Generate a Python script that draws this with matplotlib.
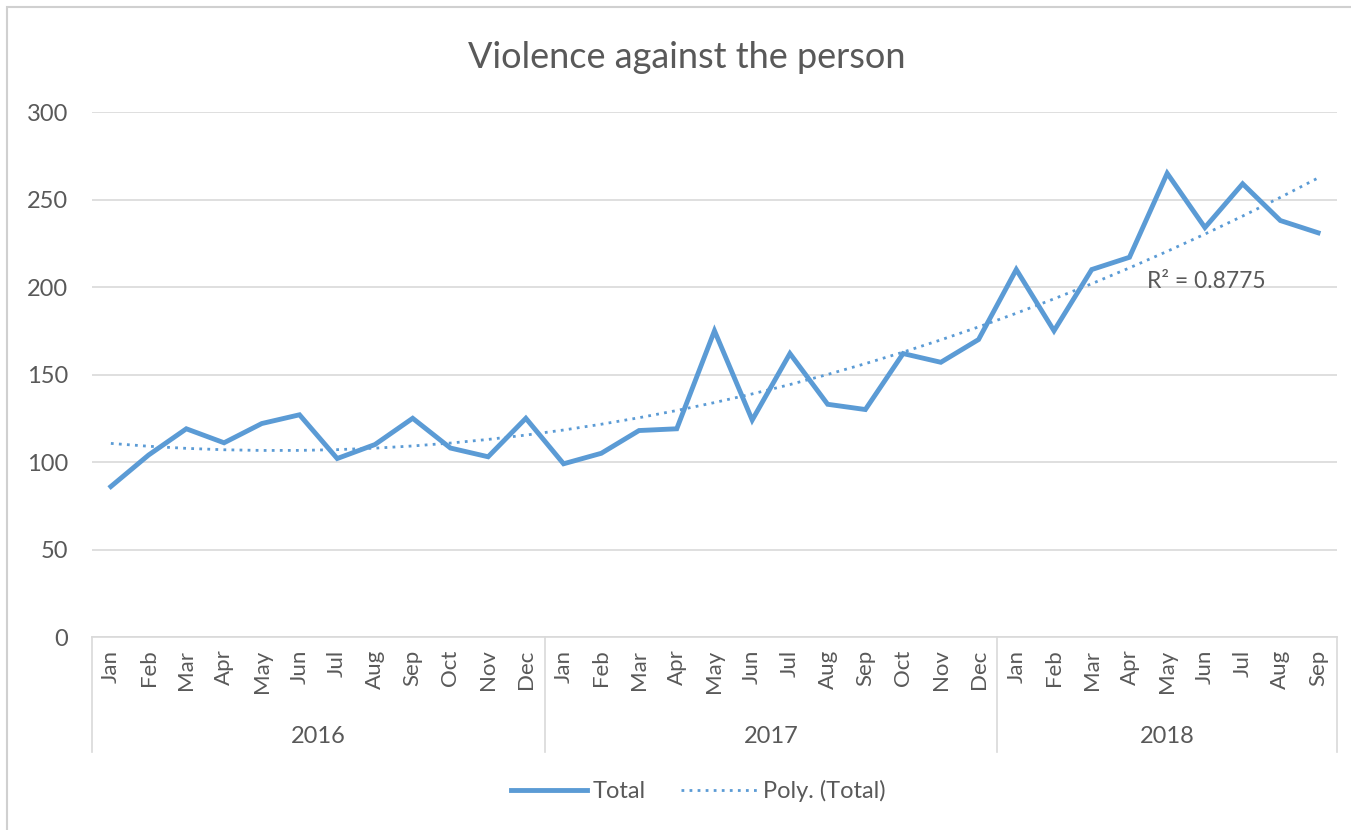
import numpy as np
import matplotlib.pyplot as plt
from matplotlib.patches import Rectangle

# -----------------------------
# Data
# -----------------------------
months = ["Jan", "Feb", "Mar", "Apr", "May", "Jun",
          "Jul", "Aug", "Sep", "Oct", "Nov", "Dec"]
years = ["2016", "2017", "2018"]
months_per_year = [12, 12, 9]

total = [86, 104, 119, 111, 122, 127, 102, 110, 125, 108, 103, 125,
         99, 105, 118, 119, 175, 124, 162, 133, 130, 162, 157, 170,
         210, 175, 210, 217, 265, 234, 259, 238, 231]

r2_label = "R² = 0.8775"

# -----------------------------
# Style
# -----------------------------
plt.rcParams['font.family'] = ['Lato', 'DejaVu Sans']
blue = "#5B9BD5"
grey_text = "#595959"
grid_col = "#D9D9D9"

fig = plt.figure(figsize=(13.51, 8.30), dpi=100)
ax = fig.add_axes([0.0681, 0.2325, 0.9215, 0.6325])

x = np.arange(len(total))
tick_labels = []
for n in months_per_year:
    tick_labels += months[:n]

# trend line: 2nd order polynomial, like Excel's default
coef = np.polyfit(x + 1, total, 2)
trend = np.polyval(coef, x + 1)

ax.plot(x, total, color=blue, lw=3.5, solid_joinstyle="miter", label="Total", zorder=3)
ax.plot(x, trend, color=blue, lw=2.0, linestyle=(0, (1, 1.9)), label="Poly. (Total)", zorder=2)

ax.set_xlim(-0.5, len(total) - 0.5)
ax.set_ylim(0, 300)
ax.set_yticks(range(0, 301, 50))
ax.yaxis.grid(True, color=grid_col, lw=1.2)
ax.set_axisbelow(True)
for s in ["top", "right", "left"]:
    ax.spines[s].set_visible(False)
ax.spines["bottom"].set_color(grid_col)
ax.spines["bottom"].set_linewidth(1.2)

ax.tick_params(axis="y", length=0, labelsize=17, labelcolor=grey_text, pad=17)
ax.set_xticks(x)
ax.set_xticklabels(tick_labels, rotation=90, fontsize=16, color=grey_text)
ax.tick_params(axis="x", length=0, pad=9)

# year groups under the month labels
trans = ax.get_xaxis_transform()
start = -0.5
bounds = [start]
for yr, n in zip(years, months_per_year):
    ax.text(start + n / 2, -0.19, yr, transform=trans, ha="center", va="center",
            fontsize=17, color=grey_text)
    start += n
    bounds.append(start)
for b in bounds:
    ax.plot([b, b], [0, -0.219], transform=trans, color=grid_col, lw=1.2, clip_on=False)

ax.text(27.46, 203, r2_label, ha="left", va="center", fontsize=16.5, color=grey_text)

fig.text(687 / 1351, 1 - 57 / 830, "Violence against the person", ha="center", va="center",
         fontsize=26, color=grey_text)

leg = ax.legend(loc="center", bbox_to_anchor=(0.487, -0.293), ncol=2, frameon=False,
                fontsize=17, handlelength=3.2, columnspacing=1.5, handletextpad=0.25)
for t in leg.get_texts():
    t.set_color(grey_text)

# outer chart border
fig.patches.append(Rectangle((7 / 1351, -0.1), 1.2, 1 - 7 / 830 + 0.1,
                             transform=fig.transFigure, fill=False,
                             edgecolor="#D0D0D0", lw=1.5))

fig.savefig("out.png", dpi=100)
